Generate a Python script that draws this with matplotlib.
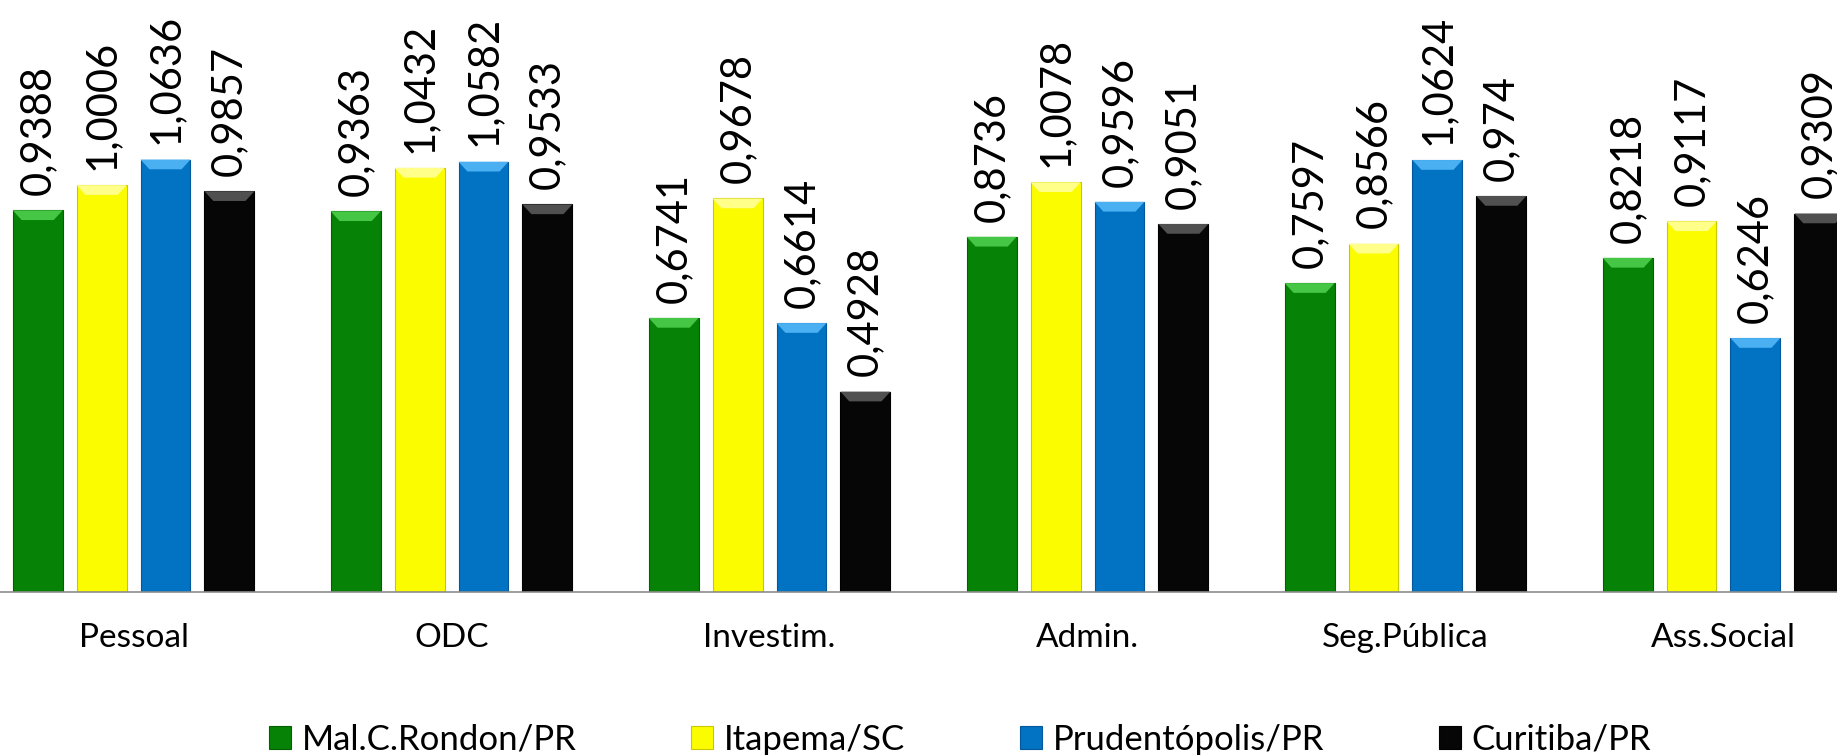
import numpy as np
import matplotlib
matplotlib.use("Agg")
import matplotlib.pyplot as plt
from matplotlib.patches import Polygon

categorias = ["Pessoal", "ODC", "Investim.", "Admin.", "Seg.Pública", "Ass.Social"]
municipios = ["Mal.C.Rondon/PR", "Itapema/SC", "Prudentópolis/PR", "Curitiba/PR"]

mal_rondon = [0.9388, 0.9363, 0.6741, 0.8736, 0.7597, 0.8218]
itapema = [1.0006, 1.0432, 0.9678, 1.0078, 0.8566, 0.9117]
prudentopolis = [1.0636, 1.0582, 0.6614, 0.9596, 1.0624, 0.6246]
curitiba = [0.9857, 0.9533, 0.4928, 0.9051, 0.974, 0.9309]

cores = ["#068206", "#FCFC00", "#0272C2", "#060606"]
cores_topo = ["#45C645", "#FFFF8A", "#4AB0F2", "#505050"]
cores_borda = ["#046004", "#C8C800", "#02589A", "#000000"]


def main():
    plt.rcParams['font.family'] = ['Lato', 'DejaVu Sans']

    fig = plt.figure(figsize=(18.37, 7.55), dpi=100)
    ax = fig.add_axes([0.0, 0.2159, 1.0, 0.7841])

    series = [mal_rondon, itapema, prudentopolis, curitiba]
    x = np.arange(len(categorias))
    passo = 0.201
    largura = 0.157
    dx = 0.028
    dy = 0.024

    for i, vals in enumerate(series):
        pos = x + (i - 1.5) * passo
        barras = ax.bar(pos, vals, width=largura, color=cores[i],
                        edgecolor=cores_borda[i], linewidth=0.8,
                        label=municipios[i], zorder=2)
        for b, v in zip(barras, vals):
            x0 = b.get_x()
            x1 = x0 + b.get_width()
            h = b.get_height()
            topo = Polygon([(x0, h), (x1, h), (x1 - dx, h - dy), (x0 + dx, h - dy)],
                           closed=True, facecolor=cores_topo[i], edgecolor="none",
                           zorder=3)
            ax.add_patch(topo)
            ax.annotate(f"{v}".replace(".", ","), (b.get_x() + b.get_width() / 2, h),
                        xytext=(0, 11), textcoords="offset points",
                        rotation=90, ha="center", va="bottom", fontsize=30,
                        color="black")

    ax.set_xlim(-0.42, 5.357)
    ax.set_ylim(0, 1.456)
    ax.set_xticks(x)
    ax.set_xticklabels(categorias, fontsize=24)
    ax.tick_params(axis="x", length=0, pad=22)
    ax.set_yticks([])
    for s in ["top", "right", "left"]:
        ax.spines[s].set_visible(False)
    ax.spines["bottom"].set_color("#8C8C8C")
    ax.spines["bottom"].set_linewidth(1.2)
    ax.spines["bottom"].set_zorder(4)

    fig.legend(loc="center", bbox_to_anchor=(0.5225, 0.02), ncol=4, frameon=False,
               fontsize=25, handlelength=0.65, handleheight=0.65,
               handletextpad=0.3, columnspacing=3.3)

    fig.savefig("out.png", dpi=100)


if __name__ == "__main__":
    main()
